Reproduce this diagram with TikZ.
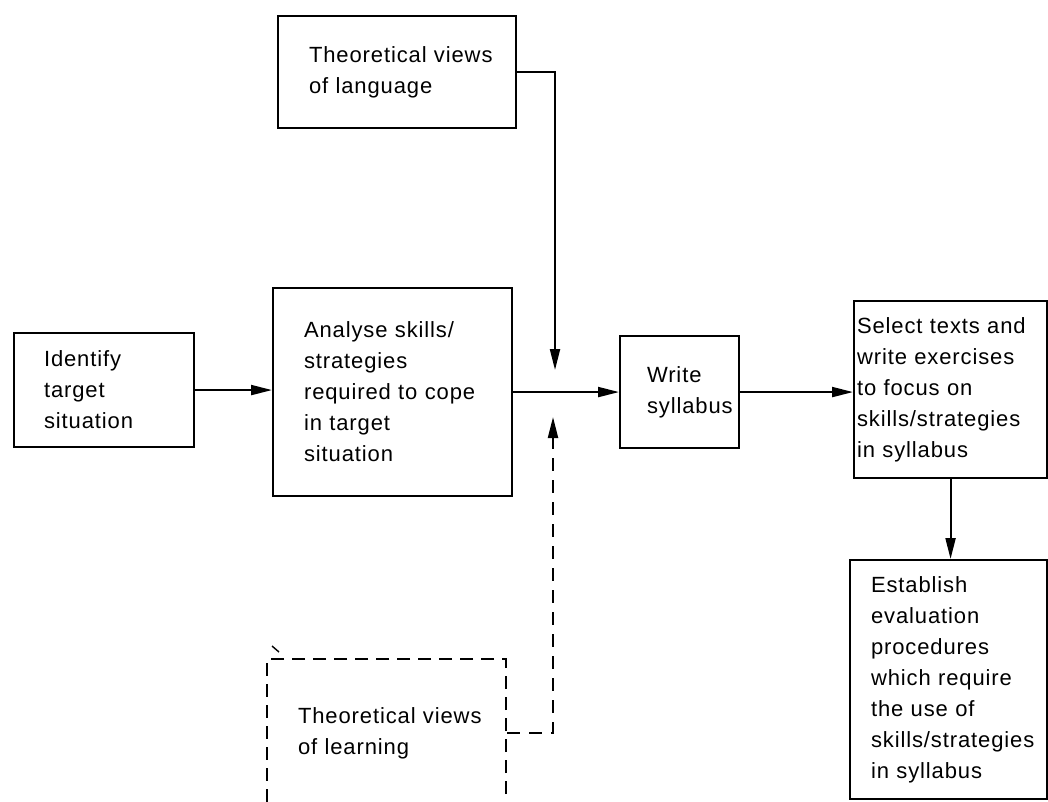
\documentclass[tikz,border=0pt]{standalone}
\usepackage{fontspec}
\setmainfont{Liberation Sans}[LetterSpace=4]
\usetikzlibrary{arrows.meta}

\begin{document}
\begin{tikzpicture}[x=1pt, y=-1pt,
  line width=2.1pt,
  every node/.style={font=\fontsize{22}{31}\selectfont},
  % boxes are placed by their top-left corner; the text is set flush left
  box/.style={draw, anchor=north west, inner xsep=0pt, inner ysep=0pt,
              align=left, line width=2.1pt},
  dashbox/.style={box, dash pattern=on 13pt off 8pt},
  arr/.style={-{Triangle[length=21pt,width=10pt]}},
  dasharr/.style={arr, dash pattern=on 13pt off 9pt}]

\useasboundingbox (0,0) rectangle (1048,801);
\clip (0,0) rectangle (1048,801);

% process boxes
\node[box, minimum width=238pt, text width=238pt, minimum height=112pt] (lang) at (277,15)
  {\leftskip=31pt\relax Theoretical views\\of language\par};
\node[box, minimum width=180pt, text width=180pt, minimum height=114pt] (ident) at (13,332)
  {\leftskip=30pt\relax Identify\\target\\situation\par};
\node[box, minimum width=239pt, text width=239pt, minimum height=208pt] (analyse) at (272,287)
  {\leftskip=31pt\relax Analyse skills/\\strategies\\required to cope\\in target\\situation\par};
\node[box, minimum width=119pt, text width=119pt, minimum height=112pt] (write) at (619,335)
  {\leftskip=27pt\relax Write\\syllabus\par};
\node[box, minimum width=193pt, text width=193pt, minimum height=177pt] (select) at (853,300)
  {\leftskip=3pt\relax Select texts and\\write exercises\\to focus on\\skills/strategies\\in syllabus\par};
\node[box, minimum width=197pt, text width=197pt, minimum height=239pt] (establish) at (849,559)
  {\leftskip=21pt\relax Establish\\evaluation\\procedures\\which require\\the use of\\skills/strategies\\in syllabus\par};
\node[dashbox, minimum width=239pt, text width=239pt, minimum height=148pt] (learn) at (266,658)
  {\leftskip=31pt\relax Theoretical views\\of learning\par};

% free ends of the two side inputs, just above and below the main line
\coordinate (langtip) at (555,370);
\coordinate (learntip) at (553,417);

% main flow
\draw[arr] (ident.east) -- (ident.east -| analyse.west);
\draw[arr] (analyse.east) -- (write.west);
\draw[arr] (write.east) -- (write.east -| select.west);
\draw[arr] (select.south) -- (select.south |- establish.north);

% theoretical inputs
\draw[arr] (lang.east) -| (langtip);
\draw[dasharr] (learn.east) -| (learntip);

% small stray tick at the corner of the dashed box
\draw[line width=1.4pt] (272,646) -- (279,652);
\end{tikzpicture}
\end{document}
